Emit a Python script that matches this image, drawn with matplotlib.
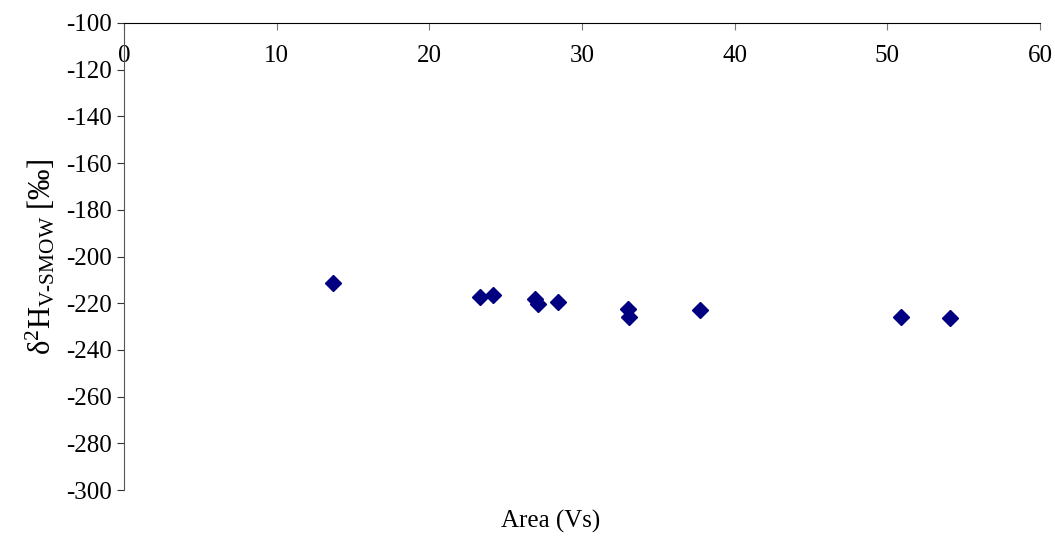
import matplotlib
matplotlib.use('Agg')
import matplotlib.pyplot as plt

# data
area = [13.7, 23.3, 24.2, 26.9, 27.1, 28.4, 33.0, 33.1, 37.7, 50.9, 54.1]
d2h = [-211.5, -217.2, -216.5, -218.3, -220.3, -219.3, -222.6, -226.0, -222.9, -225.9, -226.3]

xticks = [0, 10, 20, 30, 40, 50, 60]
yticks = list(range(-300, -99, 20))

plt.rcParams['font.family'] = ['Liberation Serif', 'DejaVu Serif']
plt.rcParams['mathtext.fontset'] = 'custom'
plt.rcParams['mathtext.rm'] = 'Liberation Serif'
plt.rcParams['mathtext.it'] = 'Liberation Serif:italic'
plt.rcParams['axes.unicode_minus'] = False

fig = plt.figure(figsize=(10.55, 5.36), dpi=100)
ax = fig.add_axes([0.1175, 0.0858, 0.8683, 0.8713])

ax.plot(area, d2h, 'D', color='#000080', markersize=8.5, linestyle='none')

ax.set_xlim(0, 60)
ax.set_ylim(-300, -100)
ax.set_xticks(xticks)
ax.set_yticks(yticks)

# x axis sits on the top edge, labels below it
ax.spines['bottom'].set_position(('data', -100))
ax.spines['top'].set_visible(False)
ax.spines['right'].set_visible(False)
ax.spines['left'].set_color('#555555')
ax.tick_params(axis='x', direction='out', length=5, width=0.8, labelsize=18, pad=11, color='#777777')
ax.tick_params(axis='y', direction='out', length=5, width=0.8, labelsize=18, pad=4, color='#333333')

ax.set_ylabel(r'δ$^{2}$H$_{\rm V\text{-}SMOW}$ [‰]', fontsize=22, labelpad=6)
fig.text(0.522, 0.028, 'Area (Vs)', ha='center', va='center', fontsize=18)

fig.savefig('out.png', dpi=100)
